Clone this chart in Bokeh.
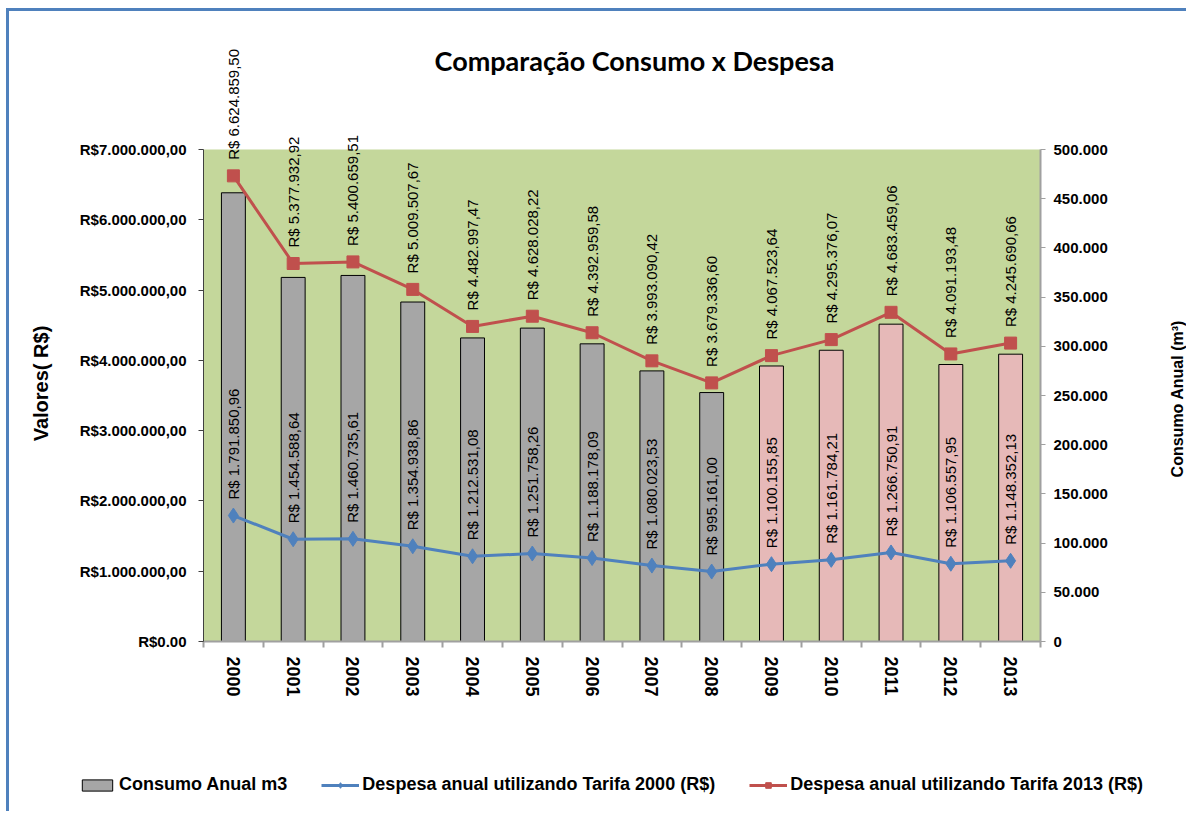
import math
from bokeh.plotting import figure
from bokeh.models import (Range1d, LinearAxis, FixedTicker, ColumnDataSource,
                          LabelSet, Label, Legend, LegendItem, BoxAnnotation)
from bokeh.core.properties import value
from bokeh.embed import file_html
from bokeh.resources import INLINE

# ---------------- data ----------------
years = [2000, 2001, 2002, 2003, 2004, 2005, 2006, 2007, 2008, 2009, 2010, 2011, 2012, 2013]
consumo_m3 = [456000, 370000, 372000, 345000, 308500, 318500, 302500, 275000,
              253000, 280000, 296000, 322500, 281500, 292000]
despesa_tarifa_2000 = [1791850.96, 1454588.64, 1460735.61, 1354938.86, 1212531.08,
                       1251758.26, 1188178.09, 1080023.53, 995161.00, 1100155.85,
                       1161784.21, 1266750.91, 1106557.95, 1148352.13]
despesa_tarifa_2013 = [6624859.50, 5377932.92, 5400659.51, 5009507.67, 4482997.47,
                       4628028.22, 4392959.58, 3993090.42, 3679336.60, 4067523.64,
                       4295376.07, 4683459.06, 4091193.48, 4245690.66]
left_ticks = [0, 1000000, 2000000, 3000000, 4000000, 5000000, 6000000, 7000000]
left_tick_labels = ["R$0.00", "R$1.000.000,00", "R$2.000.000,00", "R$3.000.000,00",
                    "R$4.000.000,00", "R$5.000.000,00", "R$6.000.000,00", "R$7.000.000,00"]
right_ticks = [0, 50000, 100000, 150000, 200000, 250000, 300000, 350000, 400000, 450000, 500000]
right_tick_labels = ["0", "50.000", "100.000", "150.000", "200.000", "250.000",
                     "300.000", "350.000", "400.000", "450.000", "500.000"]
legend_labels = ["Consumo Anual m3",
                 "Despesa anual utilizando Tarifa 2000 (R$)",
                 "Despesa anual utilizando Tarifa 2013 (R$)"]
title_text = "Comparação Consumo x Despesa"
left_title = "Valores( R$)"
right_title = "Consumo Anual  (m³)"

# ---------------- styles / layout ----------------
GRAY = "#A6A6A6"
PINK = "#E6B9B8"
BLUE = "#4F81BD"
RED = "#C0504D"
GREEN_BG = "#C4D79B"
FONT = "Liberation Sans"

W, H = 1186, 811                     # figure size (px)
FL, FR, FT, FB = 203, 1040, 149, 641  # plot area box in px

x0, x1 = years[0] - 0.5, years[-1] + 0.5
ymax_l, ymax_r = left_ticks[-1], right_ticks[-1]
px_per_x = (FR - FL) / (x1 - x0)


def px_x(px):
    return x0 + (px - FL) / px_per_x


def px_y(py, top=ymax_l):
    return (FB - py) * top / (FB - FT)


def brl(v):
    s = f"{v:,.2f}"
    s = s.replace(",", "X").replace(".", ",").replace("X", ".")
    return "R$ " + s


src = ColumnDataSource(dict(
    year=years,
    consumo=consumo_m3,
    d2000=despesa_tarifa_2000,
    d2013=despesa_tarifa_2013,
    color=[GRAY if y <= 2008 else PINK for y in years],
    lbl2000=[brl(v) for v in despesa_tarifa_2000],
    lbl2013=[brl(v) for v in despesa_tarifa_2013],
))

p = figure(width=W, height=H,
           x_range=Range1d(px_x(0), px_x(W)),
           y_range=Range1d(px_y(H), px_y(0)),
           output_backend="svg", toolbar_location=None,
           x_axis_type=None, y_axis_type=None,
           min_border=0, min_border_left=0, min_border_right=0,
           min_border_top=0, min_border_bottom=0,
           background_fill_color=None, border_fill_color=None,
           outline_line_color=None)
p.title.visible = False
p.styles = {"box-shadow": "inset 6px 8px 0 0 white, inset 9px 11px 0 0 " + BLUE}
p.extra_y_ranges = {"consumo": Range1d(px_y(H, ymax_r), px_y(0, ymax_r))}

# green plot area
p.add_layout(BoxAnnotation(left=x0, right=x1, bottom=0, top=ymax_l,
                           fill_color=GREEN_BG, fill_alpha=1, line_color=None,
                           level="underlay"))

# ---- axes (fixed inside the frame) ----
yl = LinearAxis(ticker=FixedTicker(ticks=left_ticks, minor_ticks=[]),
                major_label_overrides={t: l for t, l in zip(left_ticks, left_tick_labels)},
                fixed_location=x0, bounds=(0, ymax_l))
yl.axis_line_color = "#404040"
yl.major_tick_line_color = "#404040"
yl.major_tick_out = 5
yl.major_tick_in = 0
yl.major_label_standoff = 12
yl.major_label_text_font = FONT
yl.major_label_text_font_style = "bold"
yl.major_label_text_font_size = "15px"
yl.major_label_text_color = "black"
p.add_layout(yl, "left")

yr = LinearAxis(y_range_name="consumo",
                ticker=FixedTicker(ticks=right_ticks, minor_ticks=[]),
                major_label_overrides={t: l for t, l in zip(right_ticks, right_tick_labels)},
                fixed_location=x1, bounds=(0, ymax_r))
yr.axis_line_color = "#A0A0A0"
yr.axis_line_width = 2
yr.major_tick_line_color = "#A0A0A0"
yr.major_tick_out = 5
yr.major_tick_in = 0
yr.major_label_standoff = 8
yr.major_label_text_font = FONT
yr.major_label_text_font_style = "bold"
yr.major_label_text_font_size = "15px"
yr.major_label_text_color = "black"
p.add_layout(yr, "right")

bounds = [y - 0.5 for y in years] + [years[-1] + 0.5]
xa = LinearAxis(ticker=FixedTicker(ticks=years, minor_ticks=bounds),
                major_label_overrides={y: str(y) for y in years},
                fixed_location=0, bounds=(x0, x1))
xa.axis_line_color = "#A0A0A0"
xa.axis_line_width = 2
xa.major_tick_out = 0
xa.major_tick_in = 0
xa.major_tick_line_color = None
xa.minor_tick_out = 6
xa.minor_tick_in = 0
xa.minor_tick_line_color = "#A0A0A0"
xa.minor_tick_line_width = 2
xa.major_label_orientation = "vertical"
xa.major_label_standoff = 9
xa.major_label_text_font = FONT
xa.major_label_text_font_style = "bold"
xa.major_label_text_font_size = "18px"
xa.major_label_text_color = "black"
p.add_layout(xa, "below")

# ---- glyphs ----
bars = p.vbar(x="year", top="consumo", width=0.4, y_range_name="consumo",
              fill_color="color", line_color="black", line_width=1, source=src)
bl = p.line("year", "d2000", line_color=BLUE, line_width=3, source=src)
bp = p.scatter("year", "d2000", marker="diamond", size=15, fill_color=BLUE,
               line_color=BLUE, source=src)
rl = p.line("year", "d2013", line_color=RED, line_width=3, source=src)
rp = p.scatter("year", "d2013", marker="square", size=12, fill_color=RED,
               line_color=RED, source=src)

for col, ycol in (("lbl2000", "d2000"), ("lbl2013", "d2013")):
    ls = LabelSet(x="year", y=ycol, text=col, source=src, angle=math.pi / 2,
                  text_align="left", text_baseline="middle", y_offset=16,
                  text_font=value(FONT), text_font_size=value("15px"),
                  text_color="black")
    p.add_layout(ls)

# ---- titles ----
p.add_layout(Label(x=px_x(634), y=px_y(60), text=title_text,
                   text_align="center", text_baseline="middle",
                   text_font="Lato", text_font_style="bold", text_font_size="27px",
                   text_color="black"))
p.add_layout(Label(x=px_x(40), y=px_y(383), text=left_title, angle=math.pi / 2,
                   text_align="center", text_baseline="middle", text_font=FONT,
                   text_font_style="bold", text_font_size="20px", text_color="black"))
p.add_layout(Label(x=px_x(1177), y=px_y(396), text=right_title, angle=math.pi / 2,
                   text_align="center", text_baseline="middle", text_font=FONT,
                   text_font_style="bold", text_font_size="16px", text_color="black"))

# ---- legend ----
legend = Legend(items=[LegendItem(label=legend_labels[0], renderers=[bars]),
                       LegendItem(label=legend_labels[1], renderers=[bl, bp]),
                       LegendItem(label=legend_labels[2], renderers=[rl, rp])],
                orientation="horizontal", location=(78, H - 795),
                border_line_color=None, background_fill_alpha=0,
                label_text_font=FONT, label_text_font_style="bold",
                label_text_font_size="18px", label_text_color="black",
                glyph_width=38, glyph_height=14, label_standoff=3,
                spacing=34, padding=5, margin=0)
p.add_layout(legend)

open("out.html", "w").write(file_html(p, INLINE))
